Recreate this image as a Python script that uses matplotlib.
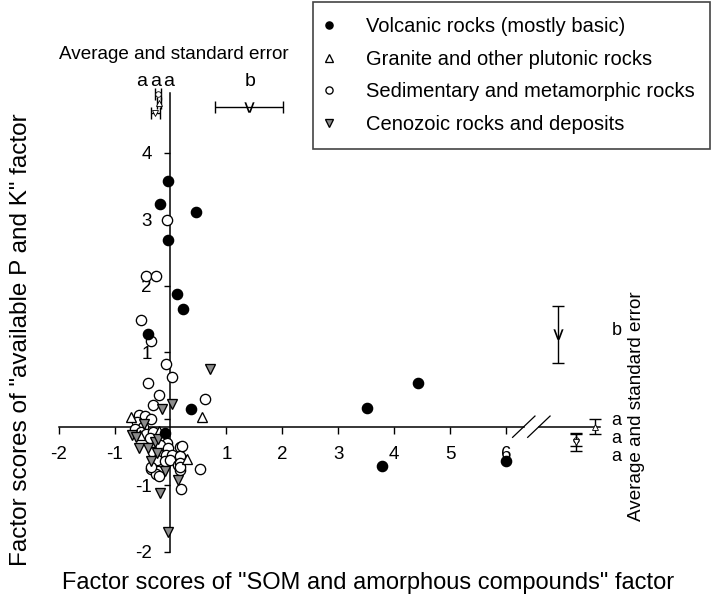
import matplotlib.pyplot as plt

plt.rcParams['font.family'] = ['Liberation Sans', 'DejaVu Sans']

# factor scores (x = "SOM and amorphous compounds", y = "available P and K")
volc_x = [-0.04, -0.19, 0.46, -0.05, 0.12, 0.22, -0.40, 0.36, -0.10, 3.52, 4.43, 3.78, 6.01]
volc_y = [3.58, 3.23, 3.11, 2.69, 1.87, 1.645, 1.28, 0.14, -0.22, 0.16, 0.53, -0.71, -0.63]

gran_x = [-0.71, 0.57, -0.20, 0.30, -0.55]
gran_y = [0.02, 0.02, -0.18, -0.60, -0.25]

sed_x = [-0.06, -0.43, -0.26, -0.52, -0.35, -0.08, 0.03, -0.40, -0.20, 0.61,
         -0.31, -0.56, -0.46, -0.34, -0.60, -0.49, -0.64, -0.52, -0.44, -0.31,
         -0.37, -0.07, -0.19, -0.04, 0.17, -0.31, -0.19, -0.08, 0.02, 0.20,
         -0.25, -0.10, -0.01, 0.14, -0.34, -0.22, 0.17, 0.53, 0.17, 0.20,
         0.17, -0.26, -0.20, 0.18, -0.35, 0.17]
sed_y = [2.99, 2.14, 2.14, 1.49, 1.17, 0.83, 0.63, 0.54, 0.36, 0.29,
         0.21, 0.06, 0.04, 0.00, -0.05, -0.12, -0.16, -0.195, -0.23, -0.195,
         -0.295, -0.36, -0.40, -0.445, -0.42, -0.50, -0.55, -0.55, -0.55, -0.60,
         -0.62, -0.63, -0.62, -0.70, -0.75, -0.78, -0.77, -0.76, -0.56, -0.41,
         -0.67, -0.83, -0.86, -1.06, -0.73, -0.73]

ceno_x = [0.70, 0.03, -0.15, -0.48, -0.68, -0.56, -0.40, -0.28, -0.25, -0.35,
          -0.10, 0.13, -0.18, -0.04, -0.62, -0.22]
ceno_y = [0.75, 0.22, 0.14, -0.08, -0.25, -0.44, -0.44, -0.35, -0.52, -0.63,
          -0.78, -0.92, -1.11, -1.70, -0.28, -0.30]

groups = ['Volcanic rocks (mostly basic)', 'Granite and other plutonic rocks',
          'Sedimentary and metamorphic rocks', 'Cenozoic rocks and deposits']

# group means and standard errors
f1_mean = [1.41, -0.21, -0.22, -0.27]
f1_se = [0.61, 0.04, 0.05, 0.08]
f1_letters = ['b', 'a', 'a', 'a']
f2_mean = [1.27, -0.12, -0.32, -0.35]
f2_se = [0.43, 0.11, 0.09, 0.13]
f2_letters = ['b', 'a', 'a', 'a']

# where the small summary panels sit
top_row_y = [4.69, 4.75, 4.88, 4.60]
right_col_x = [6.93, 7.60, 7.25, 7.25]

markers = ['o', '^', 'o', 'v']
faces = ['black', 'white', 'white', '#8c8c8c']

fig = plt.figure(figsize=(7.15, 5.99), dpi=100)
ax = fig.add_axes([40 / 715, 29 / 599, 660 / 715, 565 / 599])
ax.set_xlim(-2.334, 9.472)
ax.set_ylim(-2.275, 6.221)

x_cross = -0.12
brk = (6.32, 6.59)

ax.spines['top'].set_visible(False)
ax.spines['right'].set_visible(False)
ax.spines['left'].set_position(('data', 0))
ax.spines['bottom'].set_position(('data', x_cross))
ax.spines['left'].set_bounds(-2, 4.9)
ax.spines['bottom'].set_bounds(-2, brk[0])
for s in ['left', 'bottom']:
    ax.spines[s].set_linewidth(1.1)
ax.plot([brk[1], 7.68], [x_cross, x_cross], color='black', lw=1.1, clip_on=False)
for bx in brk:
    ax.plot([bx - 0.2, bx + 0.2], [x_cross - 0.16, x_cross + 0.16], color='black', lw=0.9)

ax.set_xticks([-2, -1, 1, 2, 3, 4, 5, 6])
ax.set_xticklabels(['-2', '-1', '1', '2', '3', '4', '5', '6'])
ax.set_yticks([-2, -1, 0, 1, 2, 3, 4])
ax.set_yticklabels(['-2', '-1', '', '1', '2', '3', '4'])
ax.tick_params(axis='x', direction='out', length=5, width=1, labelsize=13.5, pad=9)
ax.tick_params(axis='y', direction='out', length=4.5, width=1, labelsize=13.5, pad=9)

data = [(volc_x, volc_y), (gran_x, gran_y), (sed_x, sed_y), (ceno_x, ceno_y)]
order = [2, 1, 3, 0]
handles = [None] * 4
for i in order:
    xs, ys = data[i]
    ms = 7.4 if markers[i] == 'o' else 7.8
    h, = ax.plot(xs, ys, ls='none', marker=markers[i], ms=ms, mfc=faces[i],
                 mec='black', mew=0.95, label=groups[i], zorder=3)
    handles[i] = h

leg = ax.legend(handles=handles, loc='upper right', bbox_to_anchor=(710 / 715, 1 - 2 / 599),
                bbox_transform=fig.transFigure, borderaxespad=0, fontsize=14.5,
                markerscale=0.7, fancybox=False, framealpha=1, edgecolor='#444444',
                handlelength=0.1, handletextpad=1.8, labelspacing=0.67, borderpad=0.75)
leg.get_frame().set_linewidth(1.2)

# summary of factor 1 (top) and factor 2 (right)
for i in range(4):
    if i == 0:
        mk, ms, fc, ew = r'$\mathrm{v}$', 7.5, 'black', 0
    else:
        mk, ms, fc, ew = markers[i], 4, 'white', 0.6
    ax.errorbar(f1_mean[i], top_row_y[i], xerr=f1_se[i], fmt='none', ecolor='black',
                elinewidth=1, capsize=4, capthick=1)
    ax.plot(f1_mean[i], top_row_y[i], ls='none', marker=mk, ms=ms, mfc=fc,
            mec='black', mew=ew)
    ax.errorbar(right_col_x[i], f2_mean[i], yerr=f2_se[i], fmt='none', ecolor='black',
                elinewidth=1, capsize=4, capthick=1)
    ax.plot(right_col_x[i], f2_mean[i], ls='none', marker=mk, ms=ms, mfc=fc,
            mec='black', mew=ew)

top_letter_x = [1.43, -0.52, -0.26, -0.04]
for lx, t in zip(top_letter_x, f1_letters):
    ax.text(lx, 5.07, t, fontsize=14, ha='center', va='center')
right_letter_y = [1.32, -0.03, -0.30, -0.57]
for ly, t in zip(right_letter_y, f2_letters):
    ax.text(7.98, ly, t, fontsize=13, ha='center', va='center')

ax.text(0.06, 5.47, 'Average and standard error', fontsize=13.6, ha='center', va='center')
ax.text(8.33, 0.19, 'Average and standard error', fontsize=13.6, ha='center', va='center',
        rotation=90)

fig.text(368 / 715, 1 - 583 / 599, 'Factor scores of "SOM and amorphous compounds" factor',
         fontsize=17, ha='center', va='center')
fig.text(21 / 715, 1 - 340 / 599, 'Factor scores of "available P and K" factor',
         fontsize=17.5, ha='center', va='center', rotation=90)

fig.savefig('out.png', dpi=100)
